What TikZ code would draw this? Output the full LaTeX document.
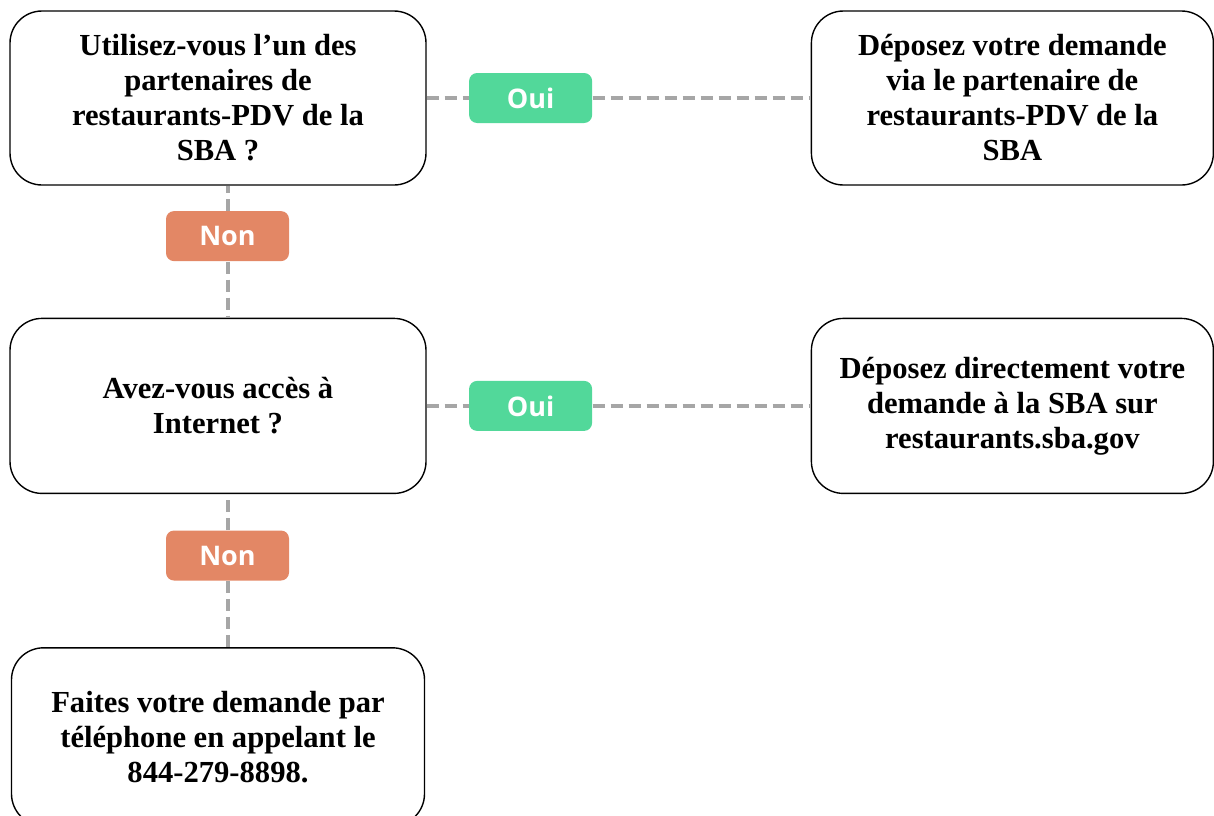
\documentclass[tikz,border=0pt]{standalone}
\usepackage{fontspec}
\setmainfont{Liberation Serif}
\newfontfamily\tagfont{Open Sans}
\usetikzlibrary{positioning,calc}
\definecolor{ouigreen}{RGB}{82,216,154}
\definecolor{nonorange}{RGB}{227,135,101}
\definecolor{linkgray}{RGB}{166,166,166}
\tikzstyle{question} = [rectangle, rounded corners=16pt, minimum width=208pt,
minimum height=87pt, align=center, draw, line width=0.7pt,
font=\bfseries\fontsize{15.3}{17.5}\selectfont]
\tikzstyle{oui} = [rectangle, rounded corners=4pt, fill=ouigreen, text=white,
minimum width=61.5pt, minimum height=25pt, font=\tagfont\bfseries\fontsize{13.5}{15}\selectfont]
\tikzstyle{non} = [oui, fill=nonorange]
\tikzstyle{link} = [linkgray, line width=2pt, dash pattern=on 6pt off 3pt]

\begin{document}
\begin{tikzpicture} [x=0.5pt, y=-0.5pt]
  \useasboundingbox (0,0) rectangle (1214,815);
  \node (partner) [question] at (218,98) {Utilisez-vous l’un des\\ partenaires de\\
    restaurants-PDV de la\\ SBA ?};
  \node (viapartner) [question, right=192pt of partner, minimum width=201pt]
  {Déposez votre demande\\ via le partenaire de\\ restaurants-PDV de la\\ SBA};
  \node (oui1) [oui, right=21pt of partner] {Oui};
  \node (non1) [non, below=12.5pt of partner, xshift=4.75pt] {Non};

  \node (internet) [question, below=66pt of partner, minimum height=87.5pt]
  {Avez-vous accès à\\ Internet ?};
  \node (direct) [question, right=192pt of internet, minimum width=201pt,
  minimum height=87.5pt] {Déposez directement votre\\ demande à la SBA sur\\
    restaurants.sba.gov};
  \node (oui2) [oui, right=21pt of internet] {Oui};
  \node (non2) [non, below=18pt of internet, xshift=4.75pt] {Non};

  \node (phone) [question, below=76.5pt of internet, minimum height=89pt,
  minimum width=206.5pt] {Faites votre demande par\\ téléphone en appelant le\\
    844-279-8898.};

  \draw[link] (partner) -- (oui1);
  \draw[link] (oui1) -- (viapartner);
  \draw[link] (non1) -- (non1 |- partner.south);
  \draw[link] (non1) -- (non1 |- internet.north);

  \draw[link] (internet) -- (oui2);
  \draw[link] (oui2) -- (direct);
  \draw[link] (non2) -- (non2 |- internet.south);
  \draw[link] (non2) -- (non2 |- phone.north);
\end{tikzpicture}
\end{document}
